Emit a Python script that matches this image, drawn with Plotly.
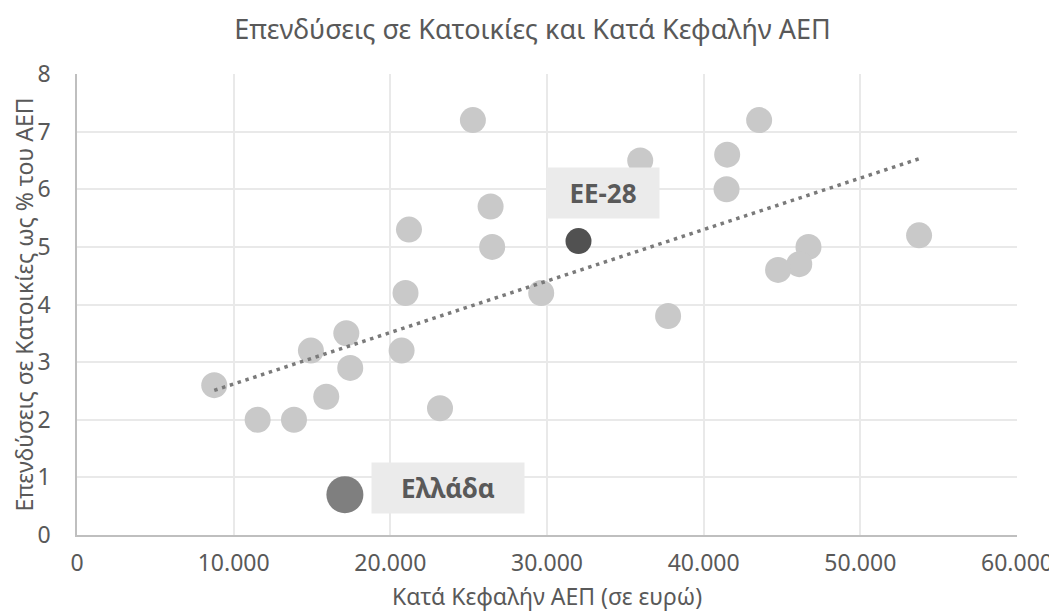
import numpy as np
import plotly.graph_objects as go

# --- data ---
country_gdp = [25270, 26400, 21190, 26500, 20970, 29630, 17190, 43540, 35950, 41500,
               41460, 53750, 46690, 46100, 44750, 37730, 8760, 11530, 13850, 15910,
               14930, 17440, 20720, 23170]
country_inv = [7.2, 5.7, 5.3, 5.0, 4.2, 4.2, 3.5, 7.2, 6.5, 6.6,
               6.0, 5.2, 5.0, 4.7, 4.6, 3.8, 2.6, 2.0, 2.0, 2.4,
               3.2, 2.9, 3.2, 2.2]
greece_gdp = [17100]
greece_inv = [0.7]
eu_gdp = [32010]
eu_inv = [5.1]

x_tickvals = [0, 10000, 20000, 30000, 40000, 50000, 60000]
x_ticktext = ["0", "10.000", "20.000", "30.000", "40.000", "50.000", "60.000"]
y_tickvals = [0, 1, 2, 3, 4, 5, 6, 7, 8]

title_text = "Επενδύσεις σε Κατοικίες και Κατά Κεφαλήν ΑΕΠ"
x_title = "Κατά Κεφαλήν ΑΕΠ (σε ευρώ)"
y_title = "Επενδύσεις σε Κατοικίες ως % του ΑΕΠ"
eu_label = "ΕΕ-28"
greece_label = "Ελλάδα"

# linear trendline over all countries (incl. Greece)
fit_x = np.array(country_gdp + greece_gdp, dtype=float)
fit_y = np.array(country_inv + greece_inv, dtype=float)
slope, intercept = np.polyfit(fit_x, fit_y, 1)
trend_x = np.array([fit_x.min(), fit_x.max()])
trend_y = slope * trend_x + intercept

FONT = "Noto Sans"
TXT = "#595959"

fig = go.Figure()
fig.add_trace(go.Scatter(x=country_gdp, y=country_inv, mode="markers",
                         marker=dict(size=26, color="#C9C9C9", line=dict(width=0)),
                         showlegend=False, hoverinfo="x+y"))
fig.add_trace(go.Scatter(x=greece_gdp, y=greece_inv, mode="markers",
                         marker=dict(size=37, color="#7F7F7F", line=dict(width=0)),
                         showlegend=False))
fig.add_trace(go.Scatter(x=eu_gdp, y=eu_inv, mode="markers",
                         marker=dict(size=26, color="#515151", line=dict(width=0)),
                         showlegend=False))
fig.add_trace(go.Scatter(x=trend_x, y=trend_y, mode="lines",
                         line=dict(color="#7A7A7A", width=3.5, dash="3.5px,4.7px"),
                         showlegend=False, hoverinfo="skip"))

fig.add_annotation(x=eu_gdp[0], y=eu_inv[0], text="<b>" + eu_label + "</b>",
                   showarrow=False, xshift=25, yshift=48, width=112, height=50,
                   bgcolor="#EBEBEB", borderpad=0,
                   font=dict(family=FONT, size=26, color=TXT))
fig.add_annotation(x=greece_gdp[0], y=greece_inv[0], text="<b>" + greece_label + "</b>",
                   showarrow=False, xshift=103, yshift=7, width=152, height=50,
                   bgcolor="#EBEBEB", borderpad=0,
                   font=dict(family=FONT, size=26, color=TXT))

# the page body adds an 8px margin, so the figure is sized/offset to compensate
fig.update_layout(
    width=1049, height=606,
    margin=dict(l=69, r=40, t=66, b=79, autoexpand=False),
    paper_bgcolor="white", plot_bgcolor="white",
    font=dict(family=FONT, color=TXT, size=23),
    title=dict(text=title_text, x=0.5, xanchor="center", y=0.965, yanchor="middle",
               font=dict(family=FONT, size=27, color=TXT)),
)
fig.update_xaxes(range=[0, 60000], tickvals=x_tickvals, ticktext=x_ticktext,
                 showgrid=True, gridcolor="#E9E9E9", gridwidth=1.5,
                 showline=True, linecolor="#BFBFBF", linewidth=1.5,
                 zeroline=False, ticks="", ticklabelstandoff=7, automargin=False,
                 tickfont=dict(family=FONT, size=23, color=TXT),
                 title=dict(text=x_title, standoff=12,
                            font=dict(family=FONT, size=23, color=TXT)))
fig.update_yaxes(range=[0, 8], tickvals=y_tickvals,
                 showgrid=True, gridcolor="#E9E9E9", gridwidth=1.5,
                 showline=True, linecolor="#BFBFBF", linewidth=1.5,
                 zeroline=False, ticks="", ticklabelstandoff=20, automargin=False,
                 tickfont=dict(family=FONT, size=23, color=TXT),
                 title=dict(text=y_title, standoff=15,
                            font=dict(family=FONT, size=23, color=TXT)))

fig.write_html("out.html")
